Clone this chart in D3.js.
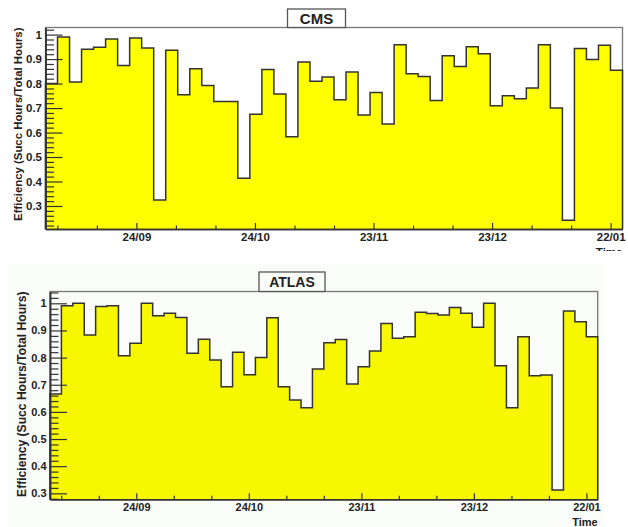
<!DOCTYPE html>
<html>
<head>
<meta charset="utf-8">
<script src="https://cdn.jsdelivr.net/npm/d3@7"></script>
<style>
  body { margin: 0; background: #fff; }
  text { font-family: "Liberation Sans", Arial, Helvetica, sans-serif; font-weight: bold; fill: #222; }
</style>
</head>
<body>
<div id="chart"></div>
<script>
// time range of both histograms (48 equal bins)
const startDate = "2007-09-01";
const endDate = "2008-01-25";
const binCount = 48;

const xTickDates = ["2007-09-24", "2007-10-24", "2007-11-23", "2007-12-23", "2008-01-22"];
const xTickLabels = ["24/09", "24/10", "23/11", "23/12", "22/01"];
const yTickValues = [0.3, 0.4, 0.5, 0.6, 0.7, 0.8, 0.9, 1];

const cmsEfficiency = [
    0.80, 0.99, 0.806, 0.94, 0.948, 0.982, 0.874, 0.986, 0.945, 0.324,
    0.936, 0.754, 0.861, 0.792, 0.727, 0.727, 0.413, 0.675, 0.857, 0.757,
    0.583, 0.888, 0.809, 0.827, 0.734, 0.847, 0.672, 0.764, 0.635, 0.959,
    0.840, 0.829, 0.731, 0.914, 0.870, 0.950, 0.922, 0.709, 0.750, 0.738,
    0.782, 0.959, 0.700, 0.242, 0.943, 0.898, 0.956, 0.854
];

const atlasEfficiency = [
    0.666, 0.991, 1.0, 0.883, 0.988, 0.991, 0.807, 0.853, 1.0, 0.954,
    0.963, 0.948, 0.816, 0.868, 0.791, 0.693, 0.820, 0.737, 0.800, 0.947,
    0.693, 0.644, 0.615, 0.758, 0.855, 0.867, 0.703, 0.766, 0.824, 0.926,
    0.871, 0.877, 0.967, 0.962, 0.957, 0.985, 0.963, 0.912, 1.0, 0.770,
    0.615, 0.877, 0.733, 0.736, 0.312, 0.972, 0.932, 0.877
];

const yTitle = "Efficiency (Succ Hours/Total Hours)";

document.addEventListener("DOMContentLoaded", function () {
    const parse = d3.timeParse("%Y-%m-%d");
    const fmt = d3.timeFormat("%d/%m");
    const t0 = parse(startDate), t1 = parse(endDate);
    const majorDates = xTickDates.map(parse);

    const binEdges = d3.range(binCount + 1).map(i => new Date(+t0 + i * (t1 - t0) / binCount));

    // minor ticks every 10 days, aligned on the 30 day major ticks
    const minorDates = d3.range(-3, 13).map(k => d3.timeDay.offset(majorDates[0], k * 10))
        .filter(d => d > t0 && d < t1 && !majorDates.some(m => +m === +d));

    const svg = d3.select("#chart")
        .append("svg")
        .attr("width", 628)
        .attr("height", 527);

    const panels = [
        {
            name: "CMS", values: cmsEfficiency,
            left: 45.5, right: 622.5, top: 27.5, bottom: 229,
            yMin: 0.206, yMax: 1.029,
            box: { x: 287.5, y: 9, w: 58, h: 18.5 }, titleSize: 15,
            labelSize: 11.5, yTitleX: 21.5, yTitleSize: 11.4,
            timeY: 255.5, fill: "#ffff00", clip: 251, bg: null
        },
        {
            name: "ATLAS", values: atlasEfficiency,
            left: 50, right: 597.7, top: 291.5, bottom: 499.3,
            yMin: 0.278, yMax: 1.0435,
            box: { x: 259, y: 272, w: 66, h: 19.5 }, titleSize: 14,
            labelSize: 11, yTitleX: 26, yTitleSize: 12.1,
            timeY: 525.5, fill: "#f7f700", clip: null,
            bg: { x: 8, y: 264, w: 595, h: 263, color: "#fafcfa" }
        }
    ];

    panels.forEach((p, idx) => {
        let g = svg.append("g");

        if (p.clip) {
            svg.append("clipPath").attr("id", "clip" + idx)
                .append("rect").attr("x", 0).attr("y", 0).attr("width", 628).attr("height", p.clip);
            g.attr("clip-path", `url(#clip${idx})`);
        }

        if (p.bg) {
            g.append("rect")
                .attr("x", p.bg.x).attr("y", p.bg.y)
                .attr("width", p.bg.w).attr("height", p.bg.h)
                .attr("fill", p.bg.color);
        }

        const x = d3.scaleTime().domain([t0, t1]).range([p.left, p.right]);
        const y = d3.scaleLinear().domain([p.yMin, p.yMax]).range([p.bottom, p.top]);

        // plot area
        g.append("rect")
            .attr("x", p.left).attr("y", p.top)
            .attr("width", p.right - p.left).attr("height", p.bottom - p.top)
            .attr("fill", p.bg ? p.bg.color : "#fff")
            .attr("stroke", "#777")
            .attr("stroke-width", 1.3);

        const pts = p.values.map((v, i) => ({ t: binEdges[i], v: v }));
        pts.push({ t: binEdges[binCount], v: p.values[binCount - 1] });

        const area = d3.area()
            .curve(d3.curveStepAfter)
            .x(d => x(d.t))
            .y0(p.bottom)
            .y1(d => y(d.v));

        g.append("path")
            .datum(pts)
            .attr("d", area)
            .attr("fill", p.fill);

        const outline = [{ t: binEdges[0], v: p.yMin }, ...pts, { t: binEdges[binCount], v: p.yMin }];
        g.append("path")
            .datum(outline)
            .attr("d", d3.line().curve(d3.curveStepAfter).x(d => x(d.t)).y(d => y(d.v)))
            .attr("fill", "none")
            .attr("stroke", "#333")
            .attr("stroke-width", 1.5);

        // x axis
        const xAxis = g.append("g")
            .attr("transform", `translate(0,${p.bottom})`)
            .call(d3.axisBottom(x)
                .tickValues(majorDates)
                .tickFormat((d, i) => xTickLabels[i] || fmt(d))
                .tickSizeInner(-6)
                .tickSizeOuter(0)
                .tickPadding(4));
        xAxis.append("g")
            .call(d3.axisBottom(x).tickValues(minorDates).tickFormat("").tickSizeInner(-3.5).tickSizeOuter(0));
        xAxis.selectAll("path.domain").attr("stroke", "#333").attr("stroke-width", 1.5);
        xAxis.selectAll("line").attr("stroke", "#333").attr("stroke-width", 1.2);
        xAxis.selectAll("text").attr("font-size", p.labelSize).attr("fill", "#222");

        // y axis
        const minorY = d3.range(Math.ceil(p.yMin * 50), Math.floor(p.yMax * 50) + 1).map(k => k / 50)
            .filter(v => !yTickValues.some(t => Math.abs(t - v) < 1e-6));

        const yAxis = g.append("g")
            .attr("transform", `translate(${p.left},0)`)
            .call(d3.axisLeft(y)
                .tickValues(yTickValues)
                .tickFormat(d3.format("~g"))
                .tickSizeInner(-17)
                .tickSizeOuter(0)
                .tickPadding(3.5));
        yAxis.append("g")
            .call(d3.axisLeft(y).tickValues(minorY).tickFormat("").tickSizeInner(-8.5).tickSizeOuter(0));
        yAxis.selectAll("path.domain").attr("stroke", "#333").attr("stroke-width", 1.5);
        yAxis.selectAll("line").attr("stroke", "#333").attr("stroke-width", 1.2);
        yAxis.selectAll("text").attr("font-size", p.labelSize).attr("fill", "#222");

        // y title
        g.append("text")
            .attr("transform", `translate(${p.yTitleX},${p.top}) rotate(-90)`)
            .attr("text-anchor", "end")
            .attr("font-size", p.yTitleSize)
            .text(yTitle);

        // x title
        g.append("text")
            .attr("x", p.right)
            .attr("y", p.timeY)
            .attr("text-anchor", "end")
            .attr("font-size", p.labelSize)
            .text("Time");

        // title box
        g.append("rect")
            .attr("x", p.box.x).attr("y", p.box.y)
            .attr("width", p.box.w).attr("height", p.box.h)
            .attr("fill", p.bg ? p.bg.color : "#fff")
            .attr("stroke", "#555")
            .attr("stroke-width", 1.3);
        g.append("text")
            .attr("x", p.box.x + p.box.w / 2)
            .attr("y", p.box.y + p.box.h / 2)
            .attr("dy", "0.36em")
            .attr("text-anchor", "middle")
            .attr("font-size", p.titleSize)
            .text(p.name);
    });
});
</script>
</body>
</html>
